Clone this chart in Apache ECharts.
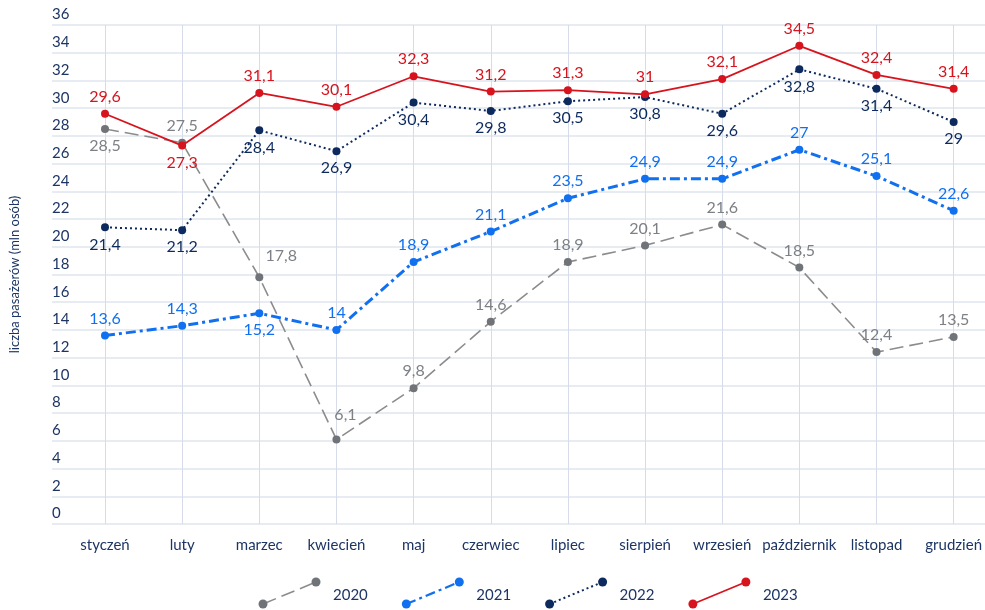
<!DOCTYPE html>
<html>
<head>
<meta charset="utf-8">
<script src="https://cdn.jsdelivr.net/npm/echarts@6/dist/echarts.min.js"></script>
<style>
  html, body { margin: 0; padding: 0; background: #fff; }
  #chart { width: 985px; height: 610px; }
</style>
</head>
<body>
<div id="chart"></div>
<script>
// data
var months = ['styczeń', 'luty', 'marzec', 'kwiecień', 'maj', 'czerwiec', 'lipiec', 'sierpień', 'wrzesień', 'październik', 'listopad', 'grudzień'];
var years = ['2020', '2021', '2022', '2023'];
var y2020 = [28.5, 27.5, 17.8, 6.1, 9.8, 14.6, 18.9, 20.1, 21.6, 18.5, 12.4, 13.5];
var y2021 = [13.6, 14.3, 15.2, 14, 18.9, 21.1, 23.5, 24.9, 24.9, 27, 25.1, 22.6];
var y2022 = [21.4, 21.2, 28.4, 26.9, 30.4, 29.8, 30.5, 30.8, 29.6, 32.8, 31.4, 29];
var y2023 = [29.6, 27.3, 31.1, 30.1, 32.3, 31.2, 31.3, 31, 32.1, 34.5, 32.4, 31.4];

// where each value label sits (t = above, b = below, tr / tu = above, shifted right)
var pos2020 = ['b', 't', 'tr', 'tu', 't', 't', 't', 't', 't', 't', 't', 't'];
var pos2021 = ['t', 't', 'b', 't', 't', 't', 't', 't', 't', 't', 't', 't'];
var pos2022 = ['b', 'b', 'b', 'b', 'b', 'b', 'b', 'b', 'b', 'b', 'b', 'b'];
var pos2023 = ['t', 'b', 't', 't', 't', 't', 't', 't', 't', 't', 't', 't'];

var navy = '#1d3565';
var styles = [
    { line: '#8c8c8c', dot: '#707478', label: '#7d8085', width: 1.6, dash: [14, 6] },
    { line: '#1170f0', dot: '#1170f0', label: '#1170f0', width: 3, dash: [10, 4, 3, 4] },
    { line: '#0d2a5e', dot: '#0d2a5e', label: '#0d2a5e', width: 2, dash: [2, 3] },
    { line: '#d7141e', dot: '#d7141e', label: '#d7141e', width: 1.8, dash: 'solid' }
];
var values = [y2020, y2021, y2022, y2023];
var positions = [pos2020, pos2021, pos2022, pos2023];
var shifts = { tr: [22, -4], tu: [9, -8] };

function fmt(v) {
    return String(v).replace('.', ',');
}

function buildData(vals, pos) {
    return vals.map(function (v, i) {
        var p = pos[i];
        var label = { position: p === 'b' ? 'bottom' : 'top' };
        if (shifts[p]) {
            label.offset = shifts[p];
        }
        return { value: v, label: label };
    });
}

var series = years.map(function (y, k) {
    var s = styles[k];
    return {
        name: y,
        type: 'line',
        xAxisIndex: 1,
        yAxisIndex: 1,
        data: buildData(values[k], positions[k]),
        symbol: 'circle',
        symbolSize: 8,
        lineStyle: { color: s.line, width: s.width, type: s.dash },
        itemStyle: { color: s.dot },
        label: {
            show: true,
            color: s.label,
            fontSize: 16,
            fontFamily: 'Lato',
            distance: 5,
            formatter: function (p) { return fmt(p.value); }
        },
        z: 3 + k
    };
});

// legend drawn by hand: diagonal line with dots on both ends
var legendGraphic = years.map(function (y, k) {
    var s = styles[k];
    var x0 = 263 + k * 143.3;
    return {
        type: 'group',
        children: [
            { type: 'line', shape: { x1: x0, y1: 604, x2: x0 + 53, y2: 582 },
              style: { stroke: s.line, lineWidth: Math.min(s.width, 2.2), lineDash: s.dash === 'solid' ? null : s.dash } },
            { type: 'circle', shape: { cx: x0, cy: 604, r: 4.5 }, style: { fill: s.dot } },
            { type: 'circle', shape: { cx: x0 + 53, cy: 582, r: 4.5 }, style: { fill: s.dot } },
            { type: 'text', x: x0 + 70, y: 595,
              style: { text: y, fill: navy, font: '15px Lato', verticalAlign: 'middle' } }
        ]
    };
});

var chart = echarts.init(document.getElementById('chart'));

var option = {
    backgroundColor: '#ffffff',
    animation: false,
    grid: [
        { left: 43, right: 0, top: 25, bottom: 86 },
        { left: 105, right: 29, top: 25, bottom: 86 }
    ],
    xAxis: [
        { gridIndex: 0, type: 'value', min: 0, max: 1, show: false },
        {
            gridIndex: 1,
            type: 'category',
            data: months,
            boundaryGap: false,
            axisLine: { show: false },
            axisTick: { show: false },
            axisLabel: { interval: 0, color: navy, fontSize: 15, fontFamily: 'Lato', margin: 14 },
            splitLine: { show: true, interval: 0, lineStyle: { color: '#d6dcea', width: 1 } }
        }
    ],
    yAxis: [
        {
            gridIndex: 0,
            type: 'value',
            min: 0,
            max: 36,
            interval: 2,
            name: 'liczba pasażerów (mln osób)',
            nameLocation: 'middle',
            nameGap: 31,
            nameTextStyle: { color: navy, fontSize: 13, fontFamily: 'Lato' },
            axisLine: { show: false },
            axisTick: { show: false },
            axisLabel: {
                inside: true,
                margin: 0,
                color: navy,
                fontSize: 15,
                fontFamily: 'Lato',
                align: 'left',
                verticalAlign: 'bottom',
                padding: [0, 0, 3, 0]
            },
            splitLine: { show: true, lineStyle: { color: '#dfe4ee', width: 1.5 } }
        },
        { gridIndex: 1, type: 'value', min: 0, max: 36, interval: 2, show: false }
    ],
    series: series,
    graphic: legendGraphic
};

chart.setOption(option);
</script>
</body>
</html>
